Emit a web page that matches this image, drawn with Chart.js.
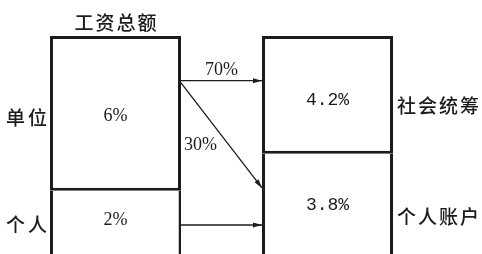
<!DOCTYPE html>
<html>
<head>
<meta charset="utf-8">
<script src="https://cdn.jsdelivr.net/npm/chart.js@4/dist/chart.umd.min.js"></script>
<style>
  html, body { margin: 0; padding: 0; background: #fff; }
  #wrap { width: 482px; height: 254px; overflow: hidden; }
</style>
</head>
<body>
<div id="wrap"><canvas id="c" width="482" height="254"></canvas></div>
<script>
// columns: payroll total on the left, the two accounts on the right
const columns = ['工资总额', '账户'];
const upperRates = ['6%', '4.2%'];
const lowerRates = ['2%', '3.8%'];
const leftRows = ['单位', '个人'];
const rightRows = ['社会统筹', '个人账户'];
const splitShares = ['70%', '30%'];
// where the upper box ends, in units of the y scale (0 = top, 100 = bottom edge)
const dividers = [71, 54];
// arrows: start level on the left box, end level on the right box
const arrowFrom = [20.5, 21.5, 86.7];
const arrowTo = [20.5, 69.7, 86.7];

const ink = '#1c1c1c';

const labels = {
  id: 'labels',
  afterDatasetsDraw(chart) {
    const ctx = chart.ctx;
    const y = chart.scales.y;
    const lb = chart.getDatasetMeta(0).data[0];
    const rb = chart.getDatasetMeta(0).data[1];
    const lx1 = lb.x + lb.width / 2;
    const rx0 = rb.x - rb.width / 2;
    const rx1 = rb.x + rb.width / 2;

    ctx.save();
    ctx.strokeStyle = ink;
    ctx.fillStyle = ink;
    ctx.lineWidth = 1.3;
    for (let i = 0; i < arrowFrom.length; i++) {
      const x0 = lx1, y0 = y.getPixelForValue(arrowFrom[i]);
      const x1 = rx0, y1 = y.getPixelForValue(arrowTo[i]);
      ctx.beginPath();
      ctx.moveTo(x0, y0);
      ctx.lineTo(x1, y1);
      ctx.stroke();
      const a = Math.atan2(y1 - y0, x1 - x0);
      ctx.beginPath();
      ctx.moveTo(x1, y1);
      ctx.lineTo(x1 - 9 * Math.cos(a) + 2.5 * Math.sin(a), y1 - 9 * Math.sin(a) - 2.5 * Math.cos(a));
      ctx.lineTo(x1 - 9 * Math.cos(a) - 2.5 * Math.sin(a), y1 - 9 * Math.sin(a) + 2.5 * Math.cos(a));
      ctx.closePath();
      ctx.fill();
    }

    ctx.textBaseline = 'middle';
    ctx.textAlign = 'center';
    ctx.font = '500 19px "Noto Sans CJK SC"';
    ctx.letterSpacing = '2px';
    ctx.fillText(columns[0], lb.x + 1, 23);

    ctx.letterSpacing = '3px';
    ctx.textAlign = 'left';
    ctx.fillText(leftRows[0], 6, y.getPixelForValue(37.5));
    ctx.fillText(leftRows[1], 6, y.getPixelForValue(86.5));
    ctx.letterSpacing = '2px';
    ctx.fillText(rightRows[0], rx1 + 4, y.getPixelForValue(32));
    ctx.fillText(rightRows[1], rx1 + 4, y.getPixelForValue(83));

    ctx.letterSpacing = '0px';
    ctx.textAlign = 'center';
    ctx.font = '18px "Liberation Serif"';
    ctx.fillText(upperRates[0], lb.x, y.getPixelForValue(36.7));
    ctx.fillText(lowerRates[0], lb.x, y.getPixelForValue(84.4));
    ctx.fillText(splitShares[0], (lx1 + rx0) / 2, y.getPixelForValue(15.6));
    ctx.textAlign = 'left';
    ctx.fillText(splitShares[1], lx1 + 3, y.getPixelForValue(50));

    ctx.textAlign = 'center';
    ctx.font = '18px "Liberation Mono"';
    ctx.fillText(upperRates[1], rb.x, y.getPixelForValue(29.4));
    ctx.fillText(lowerRates[1], rb.x, y.getPixelForValue(77.5));
    ctx.restore();
  }
};

new Chart(document.getElementById('c'), {
  type: 'bar',
  data: {
    labels: columns,
    datasets: [
      {
        data: dividers.map(d => [0, d]),
        backgroundColor: '#fff',
        borderColor: ink,
        borderSkipped: false,
        borderWidth: [{ top: 3, left: 3, right: 3, bottom: 3 }, { top: 3, left: 3, right: 3, bottom: 3 }]
      },
      {
        data: dividers.map(d => [d, 120]),
        backgroundColor: '#fff',
        borderColor: ink,
        borderSkipped: false,
        borderWidth: [{ top: 0, left: 3, right: 2.5, bottom: 0 }, { top: 0, left: 3, right: 3, bottom: 0 }]
      }
    ]
  },
  options: {
    responsive: false,
    animation: false,
    grouped: false,
    barPercentage: 0.618,
    categoryPercentage: 1,
    layout: { padding: { left: 9.5, right: 48.5, top: 36, bottom: 0 } },
    scales: {
      x: { display: false },
      y: { display: false, reverse: true, min: 0, max: 100 }
    },
    plugins: { legend: { display: false }, tooltip: { enabled: false } }
  },
  plugins: [labels]
});
</script>
</body>
</html>
